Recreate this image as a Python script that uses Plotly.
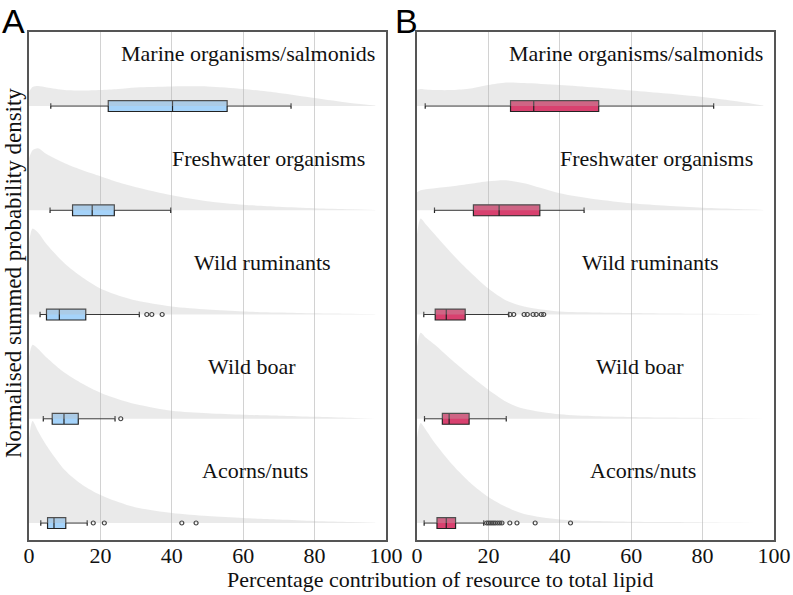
import plotly.graph_objects as go

# ---------------- data ----------------
categories = ["Marine organisms/salmonids", "Freshwater organisms", "Wild ruminants",
              "Wild boar", "Acorns/nuts"]
row_pos = [4, 3, 2, 1, 0]  # vertical slot of each category (top to bottom)

x_ticks = [0, 20, 40, 60, 80, 100]

# density grid (percentage contribution)
dens_x = [0, 1, 2.5, 5, 10, 15, 20, 25, 30, 40, 50, 60, 70, 80, 90, 97]

# normalised summed probability density (relative units, ~100 = one row)
dens_A_marine = [14, 19, 20, 18.5, 16, 15.5, 16, 17, 18.5, 19.5, 19.5, 17, 13, 8, 3, 0.5]
dens_A_fresh = [52, 60, 62, 56, 47, 40, 34, 28, 23, 15, 9, 5.5, 3.5, 2, 1, 0.3]
dens_A_rumin = [72, 86, 82, 70, 51, 37, 26, 19, 14, 8, 5, 3, 2, 1.2, 0.7, 0.2]
dens_A_boar = [62, 74, 70, 61, 46, 35, 26, 19.5, 14.5, 8, 5.5, 4, 3, 2, 1, 0]
dens_A_acorn = [85, 102, 92, 77, 53, 38, 28, 21, 15.5, 10, 7, 5, 3.5, 2, 1, 0.3]

dens_B_marine = [16, 17, 16.5, 16, 16, 17.5, 21, 23.5, 23, 21, 18.5, 15.5, 12.5, 9, 4.5, 0.5]
dens_B_fresh = [18, 20, 21, 22, 24, 26.5, 29, 30, 27, 17, 11, 7, 4.5, 2.5, 1.2, 0.3]
dens_B_rumin = [80, 96, 90, 80, 60, 42, 26, 14, 8, 3, 2, 1.5, 1, 0.7, 0.4, 0.1]
dens_B_boar = [72, 86, 81, 74, 58, 43, 29, 17, 10, 4.4, 2.5, 1.8, 1.2, 0.8, 0.4, 0]
dens_B_acorn = [85, 100, 93, 80, 58, 40, 26, 16, 9, 3.5, 2, 1.3, 0.9, 0.6, 0.3, 0]

# box statistics (order: marine, freshwater, ruminants, boar, acorns)
A_lower = [6.1, 5.9, 3.1, 4.0, 3.3]
A_q1 = [22.2, 12.2, 4.9, 6.5, 5.2]
A_median = [40.2, 17.7, 8.5, 9.8, 7.0]
A_q3 = [55.5, 23.9, 15.9, 13.8, 10.3]
A_upper = [73.4, 39.7, 30.9, 24.1, 16.3]
A_outliers = [[], [], [33.0, 34.4, 37.3], [25.7], [18.0, 21.1, 42.8, 46.8]]

B_lower = [2.3, 4.9, 1.9, 2.1, 2.0]
B_q1 = [26.2, 15.8, 5.1, 7.1, 5.6]
B_median = [32.7, 23.0, 8.2, 9.0, 8.2]
B_q3 = [50.9, 34.4, 13.5, 14.6, 10.8]
B_upper = [83.1, 46.8, 25.7, 25.0, 18.7]
B_outliers = [[], [], [26.1, 27.1, 30.0, 30.9, 32.5, 33.4, 34.8, 35.5], [],
              [19.5, 20.0, 20.5, 21.0, 21.5, 22.0, 22.6, 23.2, 23.8, 26.0, 28.0, 33.1, 43.0]]

label_x = [61.3, 67.2, 65.3, 62.5, 63.3]

x_title = "Percentage contribution of resource to total lipid"
y_title = "Normalised summed probability density"

# ---------------- style ----------------
RIDGE_SCALE = 1 / 104.25
DENS_FILL = "rgba(185,185,185,0.30)"
COL_A = "#a5d3fa"
COL_B = "#d8416f"
SERIF = "Liberation Serif, Times New Roman, serif"
W, H = 793, 595


def px_x(p):
    return p / W


def px_y(p):
    return 1 - p / H


fig = go.Figure()

panels = [
    ("x", "y", [dens_A_marine, dens_A_fresh, dens_A_rumin, dens_A_boar, dens_A_acorn],
     A_lower, A_q1, A_median, A_q3, A_upper, A_outliers, COL_A),
    ("x2", "y2", [dens_B_marine, dens_B_fresh, dens_B_rumin, dens_B_boar, dens_B_acorn],
     B_lower, B_q1, B_median, B_q3, B_upper, B_outliers, COL_B),
]

for xa, ya, dens, lo, q1, med, q3, up, outs, col in panels:
    for i, cat in enumerate(categories):
        base = row_pos[i]
        fig.add_trace(go.Scatter(x=dens_x, y=[base] * len(dens_x), mode="lines",
                                 line=dict(width=0, color="rgba(0,0,0,0)"),
                                 xaxis=xa, yaxis=ya, showlegend=False, hoverinfo="skip"))
        fig.add_trace(go.Scatter(x=dens_x, y=[base + d * RIDGE_SCALE for d in dens[i]],
                                 mode="lines", fill="tonexty", fillcolor=DENS_FILL,
                                 line=dict(width=0, color="rgba(0,0,0,0)", shape="spline",
                                           smoothing=0.8),
                                 xaxis=xa, yaxis=ya, showlegend=False, hoverinfo="skip"))
    for i, cat in enumerate(categories):
        fig.add_trace(go.Box(
            y=[row_pos[i]], q1=[q1[i]], median=[med[i]], q3=[q3[i]],
            lowerfence=[lo[i]], upperfence=[up[i]], orientation="h",
            width=0.105, whiskerwidth=0.5, fillcolor=col,
            line=dict(color="#222222", width=1.2), boxpoints=False,
            xaxis=xa, yaxis=ya, showlegend=False, name=cat))
        if outs[i]:
            fig.add_trace(go.Scatter(
                x=outs[i], y=[row_pos[i]] * len(outs[i]), mode="markers",
                marker=dict(symbol="circle-open", size=4, color="#444444",
                            line=dict(width=1.2)),
                xaxis=xa, yaxis=ya, showlegend=False))
        fig.add_annotation(x=label_x[i], y=row_pos[i] + 0.5, xref=xa, yref=ya,
                           xanchor="center", yanchor="middle",
                           text=cat, showarrow=False,
                           font=dict(family=SERIF, size=22, color="#111111"))

dom_y = [px_y(540), px_y(32)]
axis_common = dict(range=[0, 100], tickvals=x_ticks, ticks="", showgrid=True,
                   gridcolor="#d2d2d2", gridwidth=1, zeroline=False, automargin=False,
                   showline=True, linecolor="#555555", linewidth=1.5, mirror=True,
                   ticklabelstandoff=-5,
                   tickfont=dict(family=SERIF, size=22, color="#111111"))
yaxis_common = dict(range=[-0.163, 4.71], showticklabels=False, ticks="", showgrid=False,
                    zeroline=False, showline=True, linecolor="#555555", linewidth=1.5,
                    mirror=True, automargin=False)

fig.update_layout(
    width=W, height=H, margin=dict(l=0, r=0, t=0, b=0, autoexpand=False),
    paper_bgcolor="white", plot_bgcolor="white",
    xaxis=dict(domain=[px_x(29), px_x(386)], anchor="y", **axis_common),
    xaxis2=dict(domain=[px_x(417), px_x(774)], anchor="y2", **axis_common),
    yaxis=dict(domain=dom_y, anchor="x", **yaxis_common),
    yaxis2=dict(domain=dom_y, anchor="x2", **yaxis_common),
    showlegend=False,
)

centre = dict(xref="paper", yref="paper", xanchor="center", yanchor="middle", showarrow=False)
fig.add_annotation(x=px_x(440), y=px_y(579), text=x_title,
                   font=dict(family=SERIF, size=22, color="#111111"), **centre)
fig.add_annotation(x=px_x(14), y=px_y(273), text=y_title, textangle=-90,
                   font=dict(family=SERIF, size=23, color="#111111"), **centre)
fig.add_annotation(x=px_x(13), y=px_y(21), text="A",
                   font=dict(family="Liberation Sans, Arial", size=34, color="#000"), **centre)
fig.add_annotation(x=px_x(406), y=px_y(21), text="B",
                   font=dict(family="Liberation Sans, Arial", size=34, color="#000"), **centre)

fig.write_html("out.html", config={"displayModeBar": False},
               post_script="document.body.style.margin='0';document.body.style.overflow='hidden';")
